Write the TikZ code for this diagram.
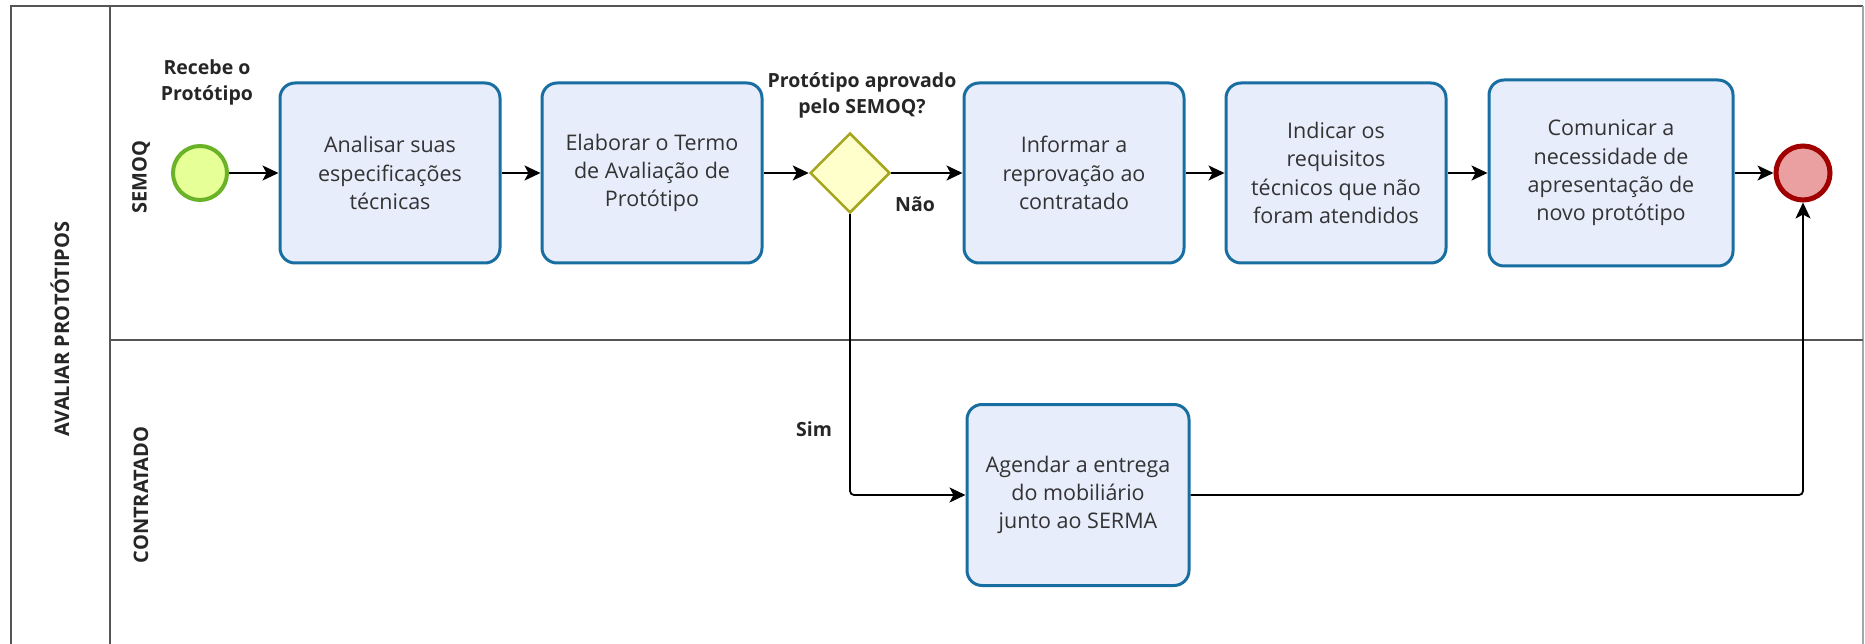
\documentclass[tikz,border=0pt]{standalone}
\usepackage{fontspec}
\setmainfont{Open Sans}
\usetikzlibrary{shapes.geometric,arrows.meta}
\definecolor{taskfill}{RGB}{232,237,252}
\definecolor{taskline}{RGB}{24,110,160}
\definecolor{startfill}{RGB}{230,255,151}
\definecolor{startline}{RGB}{106,178,40}
\definecolor{endfill}{RGB}{234,160,160}
\definecolor{endline}{RGB}{160,0,0}
\definecolor{gwfill}{RGB}{255,255,204}
\definecolor{gwline}{RGB}{166,166,30}
\definecolor{pooline}{RGB}{85,85,85}
\definecolor{txt}{RGB}{51,51,51}
\tikzset{
  task/.style={draw=taskline, fill=taskfill, line width=3pt, rounded corners=15pt,
    minimum width=220pt, minimum height=180pt, align=center, text=txt,
    font=\fontsize{21.5}{28.3}\selectfont, inner sep=0pt},
  startev/.style={circle, draw=startline, fill=startfill, line width=4pt, minimum size=54pt, inner sep=0pt},
  endev/.style={circle, draw=endline, fill=endfill, line width=5pt, minimum size=54pt, inner sep=0pt},
  gateway/.style={diamond, draw=gwline, fill=gwfill, line width=2.5pt, minimum width=80pt, minimum height=80pt, inner sep=0pt, aspect=1},
  flow/.style={draw=black, line width=1.8pt, -{Stealth[length=16pt,width=15pt,inset=4pt]}, rounded corners=4pt},
  lbl/.style={font=\bfseries\fontsize{19.5}{26}\selectfont, align=center, text=black!85},
  lanelbl/.style={font=\bfseries\fontsize{20}{24}\selectfont, rotate=90, text=black!85},
  poolline/.style={draw=pooline, line width=2pt}
}
\begin{document}
\begin{tikzpicture}[x=1pt,y=-1pt]
\useasboundingbox (0,0) rectangle (1865,644);
% pool and lanes
\draw[poolline] (11,644) -- (11,6) -- (1863,6);
\draw[draw=gray!70, line width=1.5pt] (1863,6) -- (1863,644);
\draw[poolline] (110,6) -- (110,644);
\draw[poolline] (110,340) -- (1863,340);
\node[lanelbl] (pool) at (60,329) {AVALIAR PROTÓTIPOS};
\node[lanelbl] (lane1) at (141,177) {SEMOQ};
\node[lanelbl] (lane2) at (141,495) {CONTRATADO};
% nodes
\node[startev] (start) at (200,173) {};
\node[lbl] (startlbl) at (207,82) {Recebe o\\Protótipo};
\node[task] (t1) at (390,173) {Analisar suas\\especificações\\técnicas};
\node[task] (t2) at (652,173) {Elaborar o Termo\\de Avaliação de\\Protótipo};
\node[gateway] (gw) at (850,173) {};
\node[lbl] (gwlbl) at (862,95) {Protótipo aprovado\\pelo SEMOQ?};
\node[task] (t3) at (1074,173) {Informar a\\reprovação ao\\contratado};
\node[task] (t4) at (1336,173) {Indicar os\\requisitos\\técnicos que não\\foram atendidos};
\node[task, minimum width=244pt, minimum height=186pt] (t5) at (1611,173) {Comunicar a\\necessidade de\\apresentação de\\novo protótipo};
\node[endev] (end) at (1803,173) {};
\node[task, minimum width=222pt, minimum height=181pt] (t6) at (1078,495) {Agendar a entrega\\do mobiliário\\junto ao SERMA};
% flows
\draw[flow] (start) -- (t1);
\draw[flow] (t1) -- (t2);
\draw[flow] (t2) -- (gw);
\draw[flow] (gw) -- (t3);
\node[lbl] (nao) at (915,204) {Não};
\draw[flow] (t3) -- (t4);
\draw[flow] (t4) -- (t5);
\draw[flow] (t5) -- (end);
\draw[flow] (gw.south) |- (t6.west);
\node[lbl] (sim) at (814,429) {Sim};
\draw[flow] (t6.east) -| (end.south);
\end{tikzpicture}
\end{document}
